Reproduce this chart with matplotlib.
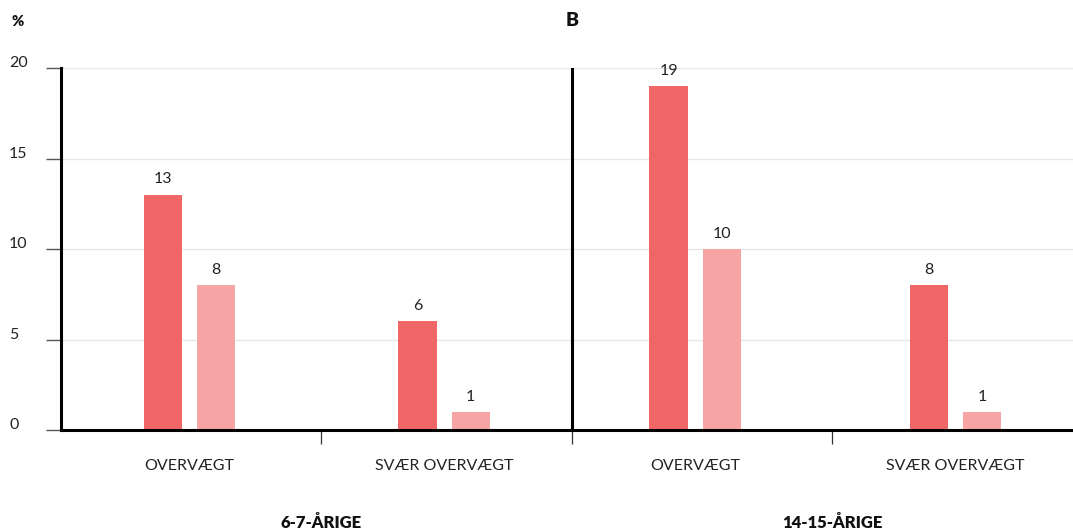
import matplotlib
matplotlib.use("Agg")
import matplotlib.pyplot as plt
import matplotlib.transforms as mtransforms
import numpy as np

plt.rcParams['font.family'] = ['Lato', 'DejaVu Sans']

categories = ["OVERVÆGT", "SVÆR OVERVÆGT", "OVERVÆGT", "SVÆR OVERVÆGT"]
groups = ["6-7-ÅRIGE", "14-15-ÅRIGE"]
series_a = [13, 6, 19, 8]
series_b = [8, 1, 10, 1]
yticks = [0, 5, 10, 15, 20]

col_a = "#F06667"
col_b = "#F7A5A4"

W, H = 1073, 529
fig = plt.figure(figsize=(W / 100, H / 100), dpi=100)
ax = fig.add_axes([61 / W, (H - 430) / H, (W - 61) / W, (430 - 68) / H])

# category slots; the second age group sits slightly tighter to the divider
x = np.array([0.0, 0.997, 1.98, 3.0])
bounds = [0.515, 1.498, 2.517]
bw = 0.149
off = 0.104
ax.bar(x - off, series_a, width=bw, color=col_a, zorder=3)
ax.bar(x + off, series_b, width=bw, color=col_b, zorder=3)

for xi, va, vb in zip(x, series_a, series_b):
    ax.annotate(str(va), (xi - off, va), xytext=(0, 6), textcoords="offset points",
                ha="center", va="bottom", fontsize=11.5, color="#222")
    ax.annotate(str(vb), (xi + off, vb), xytext=(0, 6), textcoords="offset points",
                ha="center", va="bottom", fontsize=11.5, color="#222")

ax.set_xlim(-0.503, 3.46)
ax.set_ylim(0, 20)

# grid
ax.set_yticks(yticks)
ax.yaxis.grid(True, color="#e6e6e6", linewidth=0.9, zorder=0)
ax.set_axisbelow(True)
ax.tick_params(axis="y", length=11, width=1.0, color="#555", labelleft=False)

# y tick labels sit above the tick marks, left aligned
ytrans = mtransforms.blended_transform_factory(fig.transFigure, ax.transData)
for t in yticks:
    ax.annotate(str(t), (9 / W, t), xycoords=ytrans, xytext=(0, -1.5),
                textcoords="offset points", ha="left", va="bottom",
                fontsize=11.5, color="#222")

# x ticks at group boundaries
ax.set_xticks(bounds)
ax.set_xticklabels([])
ax.tick_params(axis="x", length=10, width=0.9, color="#333")

for s in ["top", "right"]:
    ax.spines[s].set_visible(False)
for s in ["left", "bottom"]:
    ax.spines[s].set_color("black")
    ax.spines[s].set_linewidth(2.2)
ax.spines["bottom"].set_zorder(5)

# divider between age groups
ax.axvline(bounds[1], color="black", linewidth=2.2, zorder=5)

xtrans = mtransforms.blended_transform_factory(ax.transData, fig.transFigure)
for xi, c in zip(x, categories):
    ax.text(xi, 1 - 466 / H, c, transform=xtrans, ha="center", va="center",
            fontsize=11.5, color="#222")
for gx, g in zip([bounds[0], bounds[2]], groups):
    ax.text(gx, 1 - 523 / H, g, transform=xtrans, ha="center", va="center",
            fontsize=12, fontweight="heavy", color="#111")

fig.text(11 / W, 1 - 22 / H, "%", ha="left", va="center", fontsize=10.5,
         fontweight="heavy", color="#111")
fig.text(572 / W, 1 - 20 / H, "B", ha="center", va="center", fontsize=14,
         fontweight="heavy", color="#111")

fig.savefig("out.png", dpi=100)
